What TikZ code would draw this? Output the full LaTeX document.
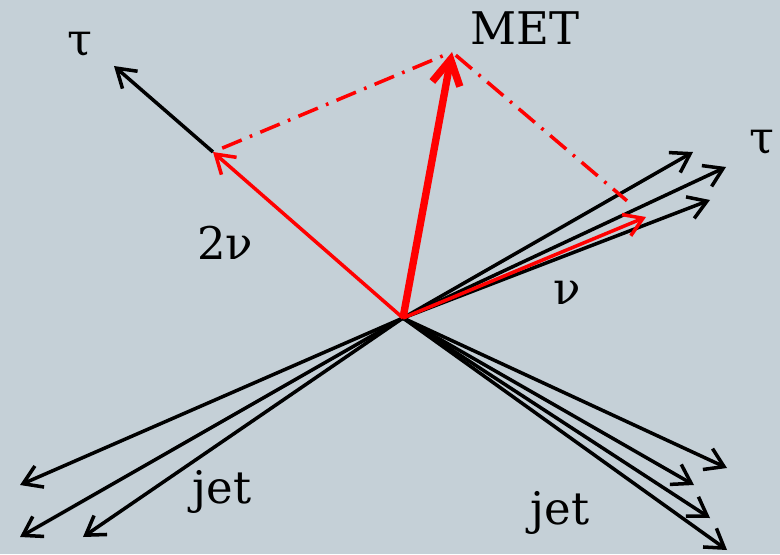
\documentclass[tikz,border=0pt]{standalone}
\usepackage{fontspec}
\setmainfont{DejaVu Serif}
\usetikzlibrary{arrows.meta}
\definecolor{slate}{RGB}{197,208,215}

\begin{document}
\begin{tikzpicture}[x=0.02cm,y=-0.02cm,
  mom/.style={line width=2pt,-{Straight Barb[length=3.6mm,width=4.6mm]}},
  lbl/.style={font=\fontsize{25.6}{30}\selectfont,inner sep=0pt},
  proj/.style={red,line width=2pt,dash pattern=on 12pt off 5pt on 1.5pt off 5pt}]
\fill[slate] (0,0) rectangle (780,554);
\coordinate (o) at (403,318);
\coordinate (tauL) at (114,66); \coordinate (nn) at (213,152);
\coordinate (met) at (452,52); \coordinate (nu) at (646,217);
\foreach \x/\y [count=\i] in {693/152,726/167,710/200} { \coordinate (tauR\i) at (\x,\y); \draw[mom] (o) -- (tauR\i); }
\foreach \x/\y [count=\i] in {20/485,20/537,83/537} { \coordinate (jetL\i) at (\x,\y); \draw[mom] (o) -- (jetL\i); }
\foreach \x/\y [count=\i] in {727/468,694/485,710/518,727/550} { \coordinate (jetR\i) at (\x,\y); \draw[mom] (o) -- (jetR\i); }
\draw[mom,red] (o) -- (nu);
\draw[mom,red] (o) -- (nn); \draw[mom] (nn) -- (tauL);
\draw[red,line width=4.2pt,-{Straight Barb[length=5mm,width=5.6mm]}] (o) -- (met);
\draw[proj,shorten <=2mm,shorten >=2mm] (nn) -- (met);
\draw[proj,shorten <=1mm,shorten >=5mm] (met) -- (nu);
\node[lbl] (ltauL) at (80,45) {τ}; \node[lbl] (ltauR) at (762,143) {τ};
\node[lbl] (lmet) at (525,28) {MET};
\node[lbl] (lnn) at (225,243) {2ν}; \node[lbl] (lnu) at (567,293) {ν};
\node[lbl] (ljetL) at (222,492) {jet}; \node[lbl] (ljetR) at (560,513) {jet};
\end{tikzpicture}
\end{document}
